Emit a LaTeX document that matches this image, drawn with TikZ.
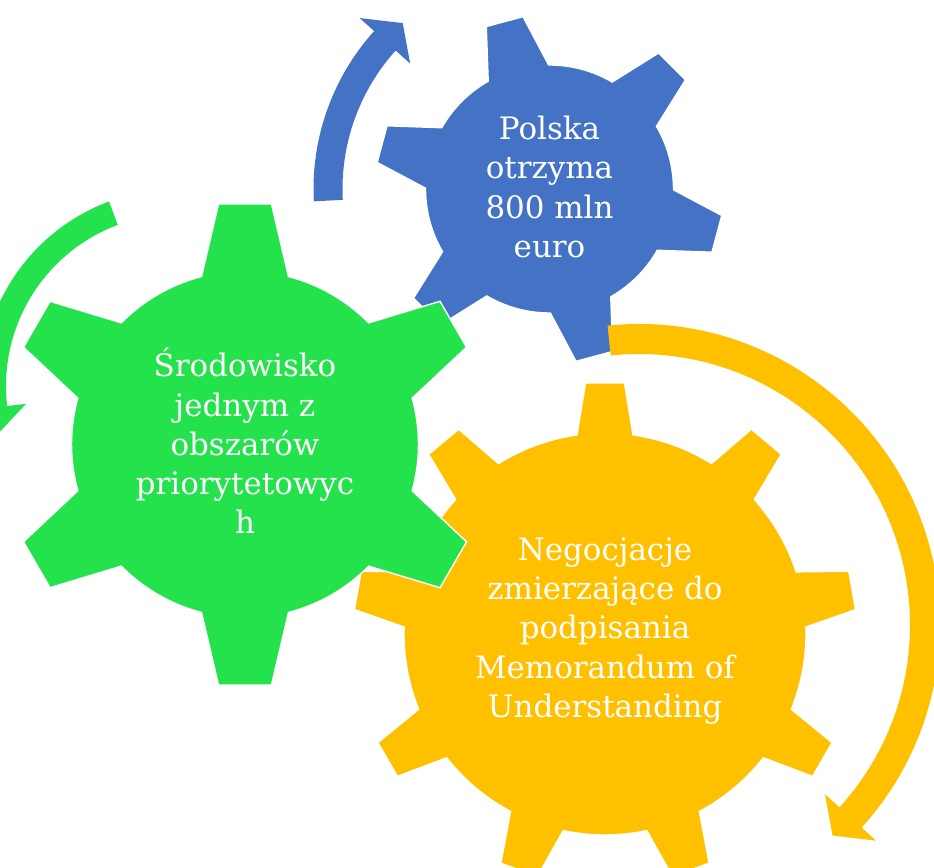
\documentclass[tikz,border=0pt]{standalone}
\usepackage{fontspec}
\setmainfont{DejaVu Serif}

\definecolor{gearblue}{HTML}{4472C4}
\definecolor{geargreen}{HTML}{24E24C}
\definecolor{gearyellow}{HTML}{FFC000}

% gear: centre, teeth, first tooth angle, body radius, base half width, tip radius, tip half width, colour
\newcommand{\gearshape}[8]{%
    \pgfmathsetmacro\gstep{360/#2}
    \pgfmathsetmacro\gbase{asin(#5/#4)}
    \pgfmathsetmacro\gtipa{atan(#7/#6)}
    \pgfmathsetmacro\gtipr{veclen(#6/100,#7/100)*100}
    \pgfmathtruncatemacro\glast{#2-1}
    \path[gear, fill=#8, shift={(#1)}] ({#3-\gbase}:#4)
        \foreach \k in {0,...,\glast} {
            -- ({#3+\k*\gstep-\gtipa}:\gtipr) -- ({#3+\k*\gstep+\gtipa}:\gtipr)
            -- ({#3+\k*\gstep+\gbase}:#4)
            arc[start angle={#3+\k*\gstep+\gbase}, end angle={#3+(\k+1)*\gstep-\gbase}, radius=#4]
        } -- cycle;
}

% circular arrow: centre, inner radius, outer radius, start angle, head angle, tip angle, wing, colour
\newcommand{\circarrow}[8]{%
    \pgfmathsetmacro\aout{#3+#7}
    \pgfmathsetmacro\ain{#2-#7}
    \pgfmathsetmacro\amid{(#2+#3)/2}
    \fill[#8, shift={(#1)}] ({#4}:#3) arc[start angle=#4, end angle=#5, radius=#3]
        -- ({#5}:\aout) -- ({#6}:\amid) -- ({#5}:\ain) -- ({#5}:#2)
        arc[start angle=#5, end angle=#4, radius=#2] -- cycle;
}

\begin{document}
\begin{tikzpicture}[x=0.02cm, y=0.02cm,
    gear/.style={draw=white, line width=0.8pt},
    geartext/.style={text=white, align=center, inner sep=0pt, font=\fontsize{17.6}{22.3}\selectfont}]
    \useasboundingbox (0,0) rectangle (934,-868);
    \clip (0,0) rectangle (934,-868);

    % Centres
    \coordinate (bluec) at (549.5,-189);
    \coordinate (yellowc) at (605,-634);
    \coordinate (greenc) at (245,-444.5);
    \coordinate (greenarc) at (178,-386);
    \coordinate (yellowarc) at (639,-625);

    % Gears
    \gearshape{bluec}{6}{105}{124}{31.3}{173.3}{19}{gearblue}
    \gearshape{yellowc}{9}{90}{201}{28}{251}{19.5}{gearyellow}
    \gearshape{greenc}{6}{90}{173.5}{43.5}{240.5}{26.5}{geargreen}

    % Arrows
    \circarrow{bluec}{207}{236}{183}{138}{131.5}{19.5}{gearblue}
    \circarrow{greenarc}{172}{197}{110.5}{186.7}{194.5}{19}{geargreen}
    \circarrow{yellowarc}{271}{301}{96}{-42.3}{-47.4}{19.5}{gearyellow}

    % Labels
    \node[geartext] (polska) at (549.5,-187) {Polska\\otrzyma\\800 mln\\euro};
    \node[geartext] (srodowisko) at (245,-441) {Środowisko\\jednym z\\obszarów\\priorytetowyc\\h};
    \node[geartext] (negocjacje) at (605,-631) {Negocjacje\\zmierzające do\\podpisania\\Memorandum of\\Understanding};
\end{tikzpicture}
\end{document}
